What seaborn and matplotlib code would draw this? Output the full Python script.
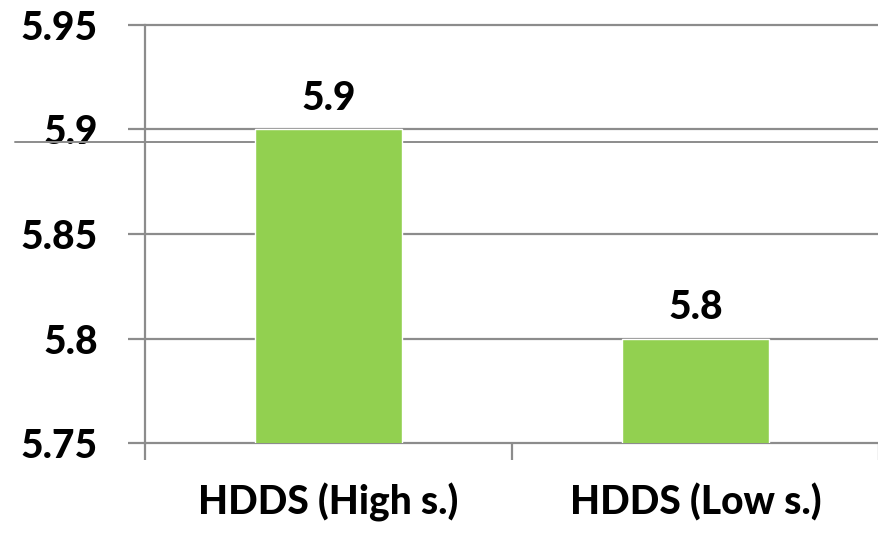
import matplotlib
matplotlib.use("Agg")
import matplotlib.pyplot as plt
import seaborn as sns
import pandas as pd

# data
categories = ["HDDS (High s.)", "HDDS (Low s.)"]
scores = [5.9, 5.8]
y_ticks = [5.75, 5.80, 5.85, 5.90, 5.95]
y_tick_labels = ["5.75", "5.8", "5.85", "5.9", "5.95"]

df = pd.DataFrame({"group": categories, "score": scores})

sns.set_style("white")
plt.rcParams["font.family"] = ["Lato", "DejaVu Sans"]
plt.rcParams["font.weight"] = "black"
plt.rcParams["text.color"] = "black"
plt.rcParams["xtick.labelcolor"] = "black"
plt.rcParams["ytick.labelcolor"] = "black"

grid_col = "#8c8c8c"
fs = 28

fig = plt.figure(figsize=(8.79, 5.34), dpi=100)
ax = fig.add_axes([145 / 879, 91 / 534, 734 / 879, 418 / 534])
ax.patch.set_visible(False)

sns.barplot(data=df, x="group", y="score", color="#92D050", width=0.4,
            saturation=1, ax=ax, zorder=3)

ax.set_ylim(5.75, 5.95)
ax.set_xlim(-0.5, 1.5)
ax.set_yticks(y_ticks)
ax.set_yticklabels(y_tick_labels, fontsize=fs, fontweight="black", color="black")
ax.set_xticks(range(len(categories)))
ax.set_xticklabels(categories, fontsize=fs, fontweight="black", color="black")
ax.set_xlabel("")
ax.set_ylabel("")

# horizontal gridlines
for t in y_ticks:
    ax.axhline(t, color=grid_col, lw=1.6, zorder=1, clip_on=False)
# stray line behind the first bar
ax.axhline(5.894, xmin=-130 / 734, xmax=1, color=grid_col, lw=1.4,
           zorder=1, clip_on=False)

# axis styling
for side in ["top", "right", "bottom"]:
    ax.spines[side].set_visible(False)
ax.spines["left"].set_color(grid_col)
ax.spines["left"].set_linewidth(1.6)

ax.tick_params(axis="y", length=12, width=1.6, color=grid_col, pad=22, left=True)
ax.tick_params(axis="x", length=0, pad=29)
ax.set_xticks([-0.5, 0.5, 1.5], minor=True)
ax.tick_params(axis="x", which="minor", length=12, width=1.6, color=grid_col, bottom=True)

ax.bar_label(ax.containers[0], fmt="%g", padding=9, fontsize=fs,
             fontweight="black", color="black")

fig.savefig("out.png", dpi=100)
